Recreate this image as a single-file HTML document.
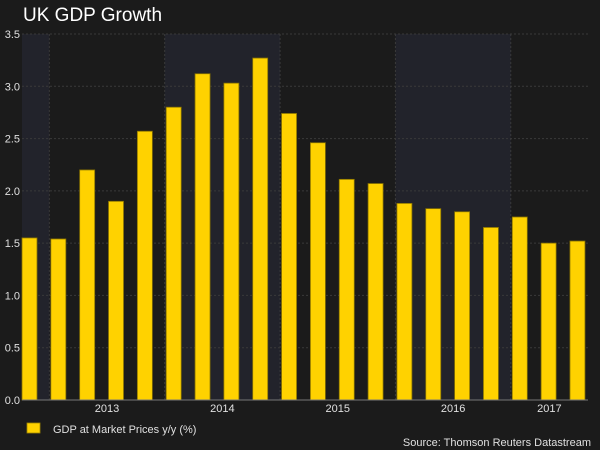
<!DOCTYPE html>
<html><head><meta charset="utf-8"><style>
html,body{margin:0;padding:0;background:#1b1b1b;}
svg{display:block;font-family:"Liberation Sans",sans-serif;}
</style></head><body>
<svg id="c" width="600" height="450" xmlns="http://www.w3.org/2000/svg">
<rect x="0" y="0" width="600" height="450" fill="#1b1b1b"/>
<text x="23" y="21" fill="#ffffff" font-size="19">UK GDP Growth</text>
<g id="bands"></g><g id="grid"></g><g id="bars"></g><g id="axes"></g>
<rect x="27" y="423" width="13" height="10" fill="#ffd200" stroke="#a08600" stroke-width="0.8"/>
<text x="53" y="433" fill="#e0e0e0" font-size="11">GDP at Market Prices y/y (%)</text>
<text x="591" y="446" fill="#e0e0e0" font-size="11" text-anchor="end">Source: Thomson Reuters Datastream</text>
</svg>
<script>
const values=[1.55,1.54,2.2,1.9,2.57,2.8,3.12,3.03,3.27,2.74,2.46,2.11,2.07,1.88,1.83,1.8,1.65,1.75,1.5,1.52];
const yTicks=[0,0.5,1,1.5,2,2.5,3,3.5];
const years=["2013","2014","2015","2016","2017"];
const yearStartIdx=[1,5,9,13,17];
const shadedRanges=[[0,1],[5,9],[13,17]];
const NS="http://www.w3.org/2000/svg";
const X0=22,STEP=28.84,BW=15,Y0=400,YT=34,XR=588,YMAX=3.5;
const y=v=>Y0-(v/YMAX)*(Y0-YT);
const xb=i=>X0+i*STEP;
const xg=i=>i<=0?X0:Math.min(XR,xb(i)-1.5);
function mk(t,a,p){const e=document.createElementNS(NS,t);for(const k in a)e.setAttribute(k,a[k]);p.appendChild(e);return e;}
const bands=document.getElementById('bands'),grid=document.getElementById('grid'),bars=document.getElementById('bars'),axes=document.getElementById('axes');
shadedRanges.forEach(r=>{const x1=xg(r[0]),x2=xg(r[1]);
const e=mk('rect',{x:x1,y:YT,width:x2-x1,height:Y0-YT,fill:'#22232b'},bands);

});
yTicks.forEach(t=>{
if(t>0){const l=mk('line',{x1:X0,x2:XR,y1:y(t),y2:y(t),stroke:'#3a3a3a','stroke-dasharray':'2,2'},grid);

}
const tx=mk('text',{x:20,y:y(t)+4,fill:'#e0e0e0','font-size':11,'text-anchor':'end'},axes);tx.textContent=t.toFixed(1);

});
yearStartIdx.forEach((s,k)=>{const gx=xg(s);
const l=mk('line',{x1:gx,x2:gx,y1:YT,y2:Y0,stroke:'#3a3a3a','stroke-dasharray':'2,2'},grid);


const end=k+1<yearStartIdx.length?xg(yearStartIdx[k+1]):XR;
const tx=mk('text',{x:(gx+end)/2,y:412,fill:'#e0e0e0','font-size':11,'text-anchor':'middle'},axes);tx.textContent=years[k];

});
values.forEach((v,i)=>{const r=mk('rect',{x:xb(i),y:y(v),width:BW,height:Y0-y(v),fill:'#ffd200',stroke:'#8a7400','stroke-width':0.8},bars);

});
const ax=mk('line',{x1:X0,x2:XR,y1:Y0,y2:Y0,stroke:'#777','stroke-width':1},axes);


</script>
</body></html>
